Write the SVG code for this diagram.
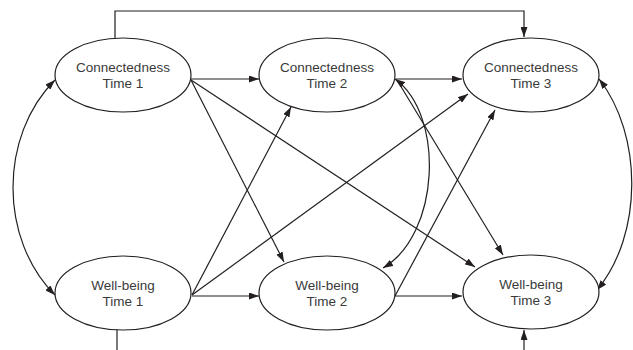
<svg xmlns="http://www.w3.org/2000/svg" width="633" height="350" viewBox="0 0 633 350">
<style>
.node ellipse{fill:#fff;stroke:#231f20;stroke-width:1.2}
.node text{font-family:"Liberation Sans",Arial,sans-serif;font-size:13.5px;fill:#3a3a3a;text-anchor:middle}
.conn path,.conn line,.conn polyline{fill:none;stroke:#231f20;stroke-width:1.2}
.arr{marker-end:url(#ah)}
.dbl{marker-start:url(#ah);marker-end:url(#ah)}
</style>
<defs>
<marker id="ah" markerUnits="userSpaceOnUse" markerWidth="10" markerHeight="7" refX="10" refY="3.5" orient="auto-start-reverse">
<path d="M0,0 L10,3.5 L0,7 z" fill="#231f20"/>
</marker>
</defs>
<rect width="633" height="350" fill="#fff"/>
<g class="conn">
<polyline points="115,38 115,11 524,11 524,37" class="arr"/>
<line x1="117" y1="329" x2="117" y2="350"/>
<line x1="524" y1="350" x2="524" y2="330" class="arr"/>
<line x1="191" y1="79" x2="259" y2="79" class="arr"/>
<line x1="396" y1="79" x2="462" y2="79" class="arr"/>
<line x1="192" y1="296" x2="259" y2="296" class="arr"/>
<line x1="395" y1="296" x2="462" y2="296" class="arr"/>
<line x1="191" y1="80" x2="284" y2="262" class="arr"/>
<line x1="191" y1="80" x2="475" y2="267" class="arr"/>
<line x1="397" y1="80" x2="503" y2="255" class="arr"/>
<line x1="192" y1="295" x2="291" y2="107" class="arr"/>
<line x1="192" y1="295" x2="468" y2="94" class="arr"/>
<line x1="395" y1="296" x2="495" y2="110" class="arr"/>
<path d="M55,80 C-1,136 -1,239 55,295" class="dbl"/>
<path d="M599,79 C643,135 643,235 597,290" class="dbl"/>
<path d="M395,79 C445,115 440,235 383,268" class="dbl"/>
</g>
<g id="conn1" class="node"><ellipse cx="123" cy="75" rx="68" ry="37"/><text x="123" y="72">Connectedness</text><text x="123" y="88">Time 1</text></g>
<g id="conn2" class="node"><ellipse cx="327" cy="75" rx="68" ry="37"/><text x="327" y="72">Connectedness</text><text x="327" y="88">Time 2</text></g>
<g id="conn3" class="node"><ellipse cx="531" cy="75" rx="68" ry="37"/><text x="531" y="72">Connectedness</text><text x="531" y="88">Time 3</text></g>
<g id="wb1" class="node"><ellipse cx="123" cy="293" rx="68" ry="37"/><text x="123" y="290">Well-being</text><text x="123" y="306">Time 1</text></g>
<g id="wb2" class="node"><ellipse cx="327" cy="293" rx="68" ry="37"/><text x="327" y="290">Well-being</text><text x="327" y="306">Time 2</text></g>
<g id="wb3" class="node"><ellipse cx="531" cy="292" rx="68" ry="37"/><text x="531" y="289">Well-being</text><text x="531" y="305">Time 3</text></g>
</svg>
